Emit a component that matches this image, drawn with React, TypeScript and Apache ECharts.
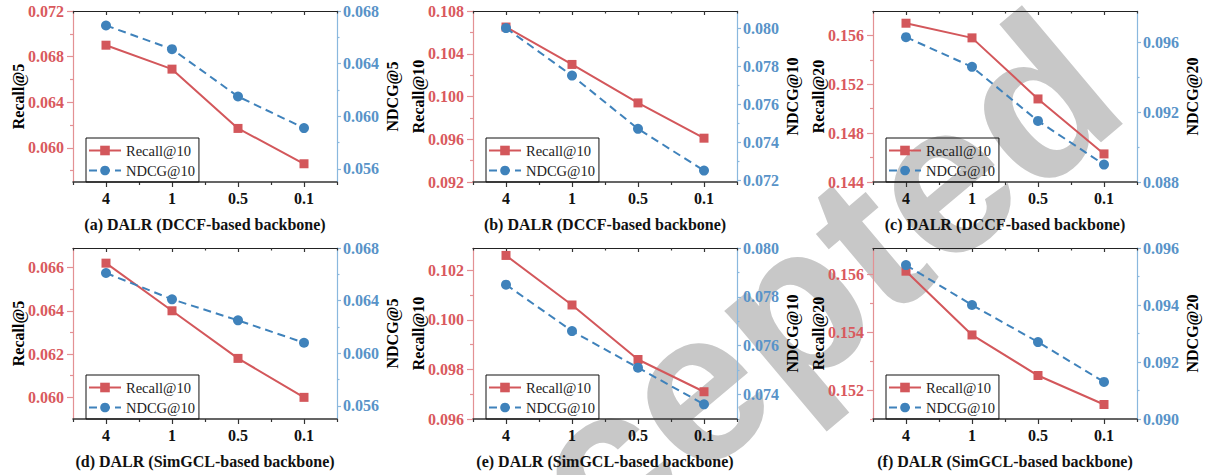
import React, { useEffect, useRef } from 'react';
import * as echarts from 'echarts';

const categories = ['4', '1', '0.5', '0.1'];

// Panel (a)
const recallA = [0.0690, 0.0669, 0.0617, 0.0586];
const ndcgA = [0.0669, 0.0651, 0.0615, 0.0591];
const leftTicksA = [0.060, 0.064, 0.068, 0.072];
const leftMinorA = [0.058, 0.062, 0.066, 0.070];
const rightTicksA = [0.056, 0.060, 0.064, 0.068];
const rightMinorA = [0.058, 0.062, 0.066];
// Panel (b)
const recallB = [0.1065, 0.1030, 0.0994, 0.0961];
const ndcgB = [0.0800, 0.0775, 0.0747, 0.0725];
const leftTicksB = [0.092, 0.096, 0.100, 0.104, 0.108];
const leftMinorB = [0.094, 0.098, 0.102, 0.106];
const rightTicksB = [0.072, 0.074, 0.076, 0.078, 0.080];
const rightMinorB = [0.073, 0.075, 0.077, 0.079];
// Panel (c)
const recallC = [0.1570, 0.1558, 0.1508, 0.1463];
const ndcgC = [0.0963, 0.0946, 0.0915, 0.0890];
const leftTicksC = [0.144, 0.148, 0.152, 0.156];
const leftMinorC = [0.146, 0.150, 0.154];
const rightTicksC = [0.088, 0.092, 0.096];
const rightMinorC = [0.090, 0.094];
// Panel (d)
const recallD = [0.0662, 0.0640, 0.0618, 0.0600];
const ndcgD = [0.0661, 0.0641, 0.0625, 0.0608];
const leftTicksD = [0.060, 0.062, 0.064, 0.066];
const leftMinorD = [0.061, 0.063, 0.065];
const rightTicksD = [0.056, 0.060, 0.064, 0.068];
const rightMinorD = [0.058, 0.062, 0.066];
// Panel (e)
const recallE = [0.1026, 0.1006, 0.0984, 0.0971];
const ndcgE = [0.0785, 0.0766, 0.0751, 0.0736];
const leftTicksE = [0.096, 0.098, 0.100, 0.102];
const leftMinorE = [0.097, 0.099, 0.101];
const rightTicksE = [0.074, 0.076, 0.078, 0.080];
const rightMinorE = [0.073, 0.075, 0.077, 0.079];
// Panel (f)
const recallF = [0.1561, 0.1539, 0.1525, 0.1515];
const ndcgF = [0.0954, 0.0940, 0.0927, 0.0913];
const leftTicksF = [0.152, 0.154, 0.156];
const leftMinorF = [0.151, 0.153, 0.155];
const rightTicksF = [0.090, 0.092, 0.094, 0.096];
const rightMinorF = [0.091, 0.093, 0.095];

const captions = [
  '(a) DALR (DCCF-based backbone)',
  '(b) DALR (DCCF-based backbone)',
  '(c) DALR (DCCF-based backbone)',
  '(d) DALR (SimGCL-based backbone)',
  '(e) DALR (SimGCL-based backbone)',
  '(f) DALR (SimGCL-based backbone)',
];
const leftNames = ['Recall@5', 'Recall@10', 'Recall@20', 'Recall@5', 'Recall@10', 'Recall@20'];
const rightNames = ['NDCG@5', 'NDCG@10', 'NDCG@20', 'NDCG@5', 'NDCG@10', 'NDCG@20'];
const seriesNames = ['Recall@10', 'NDCG@10'];

const panels = [
  { recall: recallA, ndcg: ndcgA, lMin: 0.057, lMax: 0.072, lT: leftTicksA, lM: leftMinorA, rMin: 0.055, rMax: 0.068, rT: rightTicksA, rM: rightMinorA },
  { recall: recallB, ndcg: ndcgB, lMin: 0.092, lMax: 0.108, lT: leftTicksB, lM: leftMinorB, rMin: 0.0719, rMax: 0.0809, rT: rightTicksB, rM: rightMinorB },
  { recall: recallC, ndcg: ndcgC, lMin: 0.144, lMax: 0.158, lT: leftTicksC, lM: leftMinorC, rMin: 0.088, rMax: 0.0978, rT: rightTicksC, rM: rightMinorC },
  { recall: recallD, ndcg: ndcgD, lMin: 0.059, lMax: 0.0669, lT: leftTicksD, lM: leftMinorD, rMin: 0.055, rMax: 0.068, rT: rightTicksD, rM: rightMinorD },
  { recall: recallE, ndcg: ndcgE, lMin: 0.096, lMax: 0.1029, lT: leftTicksE, lM: leftMinorE, rMin: 0.073, rMax: 0.080, rT: rightTicksE, rM: rightMinorE },
  { recall: recallF, ndcg: ndcgF, lMin: 0.1510, lMax: 0.1569, lT: leftTicksF, lM: leftMinorF, rMin: 0.090, rMax: 0.096, rT: rightTicksF, rM: rightMinorF },
];

const FONT = 'Liberation Serif';
const RED = '#d3575b';
const RED_LABEL = '#d9595d';
const RED_AXIS = '#e39194';
const BLUE = '#3f82bb';
const BLUE_LABEL = '#5893c8';
const BLUE_AXIS = '#8ab8de';
const DARK = '#333333';

const GRID_LEFT = [73, 473, 873];
const GRID_TOP = [11, 248];
const GRID_W = 264;
const GRID_H = 171;

function buildOption() {
  const grid: any[] = [];
  const xAxis: any[] = [];
  const yAxis: any[] = [];
  const series: any[] = [];
  const legend: any[] = [];
  const graphic: any[] = [];

  graphic.push({
    type: 'text',
    x: 1155,
    y: 140,
    rotation: 0.70,
    z: -10,
    silent: true,
    style: {
      text: 'Accepted',
      fontSize: 215,
      fontWeight: 'bold',
      fontFamily: 'Liberation Sans',
      fill: '#c8c8c8',
      align: 'right',
      verticalAlign: 'bottom',
    },
  });

  panels.forEach((p, i) => {
    const col = i % 3;
    const row = Math.floor(i / 3);
    const left = GRID_LEFT[col];
    const top = GRID_TOP[row];
    grid.push({ left, top, width: GRID_W, height: GRID_H, containLabel: false });
    const xb = i * 4;
    const yb = i * 4;
    const tickStyle = { color: DARK, width: 1.2 };
    xAxis.push(
      {
        gridIndex: i, type: 'category', data: categories, position: 'bottom', boundaryGap: true,
        axisLine: { show: true, lineStyle: { color: DARK, width: 1.5 } },
        axisTick: { show: true, alignWithLabel: true, interval: 0, length: 5, lineStyle: tickStyle },
        axisLabel: { interval: 0, margin: 8, color: '#111', fontFamily: FONT, fontWeight: 'bold', fontSize: 16 },
        splitLine: { show: false },
      },
      {
        gridIndex: i, type: 'category', data: categories, position: 'bottom', boundaryGap: true,
        axisLine: { show: false },
        axisTick: { show: true, interval: 0, length: 3, lineStyle: tickStyle },
        axisLabel: { show: false }, splitLine: { show: false },
      },
      {
        gridIndex: i, type: 'category', data: categories, position: 'top', boundaryGap: true,
        axisLine: { show: true, lineStyle: { color: '#222', width: 1.2 } },
        axisTick: { show: true, inside: true, alignWithLabel: true, interval: 0, length: 4, lineStyle: tickStyle },
        axisLabel: { show: false }, splitLine: { show: false },
      },
      {
        gridIndex: i, type: 'category', data: categories, position: 'top', boundaryGap: true,
        axisLine: { show: false },
        axisTick: { show: true, inside: true, interval: 0, length: 2.5, lineStyle: tickStyle },
        axisLabel: { show: false }, splitLine: { show: false },
      }
    );
    const nameStyle = { color: '#000', fontFamily: FONT, fontWeight: 'bold', fontSize: 16 };
    yAxis.push(
      {
        gridIndex: i, type: 'value', position: 'left', min: p.lMin, max: p.lMax,
        name: leftNames[i], nameLocation: 'middle', nameGap: 47, nameRotate: 90, nameMoveOverlap: false,
        nameTextStyle: nameStyle,
        axisLine: { show: true, lineStyle: { color: RED_AXIS, width: 1.2 } },
        axisTick: { show: true, length: 6, customValues: p.lT, lineStyle: { color: RED_AXIS, width: 1.2 } },
        axisLabel: {
          customValues: p.lT, margin: 9, color: RED_LABEL, fontFamily: FONT, fontWeight: 'bold', fontSize: 16,
          formatter: (v: number) => v.toFixed(3),
        },
        splitLine: { show: false },
      },
      {
        gridIndex: i, type: 'value', position: 'left', min: p.lMin, max: p.lMax,
        axisLine: { show: false },
        axisTick: { show: true, length: 3, customValues: p.lM, lineStyle: { color: RED_AXIS, width: 1.2 } },
        axisLabel: { show: false }, splitLine: { show: false },
      },
      {
        gridIndex: i, type: 'value', position: 'right', min: p.rMin, max: p.rMax,
        name: rightNames[i], nameLocation: 'middle', nameGap: 47, nameRotate: 90, nameMoveOverlap: false,
        nameTextStyle: nameStyle,
        axisLine: { show: true, lineStyle: { color: BLUE_AXIS, width: 1.2 } },
        axisTick: { show: true, length: 4, customValues: p.rT, lineStyle: { color: BLUE_AXIS, width: 1.2 } },
        axisLabel: {
          customValues: p.rT, margin: 6, color: BLUE_LABEL, fontFamily: FONT, fontWeight: 'bold', fontSize: 16,
          formatter: (v: number) => v.toFixed(3),
        },
        splitLine: { show: false },
      },
      {
        gridIndex: i, type: 'value', position: 'right', min: p.rMin, max: p.rMax,
        axisLine: { show: false },
        axisTick: { show: true, length: 2.5, customValues: p.rM, lineStyle: { color: BLUE_AXIS, width: 1.2 } },
        axisLabel: { show: false }, splitLine: { show: false },
      }
    );
    series.push(
      {
        type: 'line', name: seriesNames[0], xAxisIndex: xb, yAxisIndex: yb, data: p.recall,
        symbol: 'rect', symbolSize: 9, itemStyle: { color: RED },
        lineStyle: { color: RED, width: 2 }, z: 3,
      },
      {
        type: 'line', name: seriesNames[1], xAxisIndex: xb, yAxisIndex: yb + 2, data: p.ndcg,
        symbol: 'circle', symbolSize: 10, itemStyle: { color: BLUE },
        lineStyle: { color: BLUE, width: 2, type: [8, 5] }, z: 4,
      }
    );
    legend.push({
      left: left + 13, top: top + 127, orient: 'vertical', data: seriesNames,
      borderColor: '#111', borderWidth: 1, padding: [5, 4, 4, 2],
      itemWidth: 32, itemHeight: 12, itemGap: 5, selectedMode: false,
      textStyle: { fontFamily: FONT, fontSize: 14.5, color: '#222' },
    });
    graphic.push({
      type: 'text', x: left + GRID_W / 2, y: top + 213,
      style: {
        text: captions[i], fontFamily: FONT, fontWeight: 'bold', fontSize: 16, fill: '#111',
        align: 'center', verticalAlign: 'middle',
      },
    });
  });

  return {
    animation: false,
    backgroundColor: '#ffffff',
    grid, xAxis, yAxis, series, legend, graphic,
  };
}

export default function App() {
  const ref = useRef<HTMLDivElement>(null);
  useEffect(() => {
    if (!ref.current) return;
    const chart = echarts.init(ref.current, undefined, { renderer: 'svg' });
    chart.setOption(buildOption() as any);
    return () => chart.dispose();
  }, []);
  return (
    <div
      ref={ref}
      style={{ position: 'fixed', left: 0, top: 0, width: 1206, height: 475, background: '#fff' }}
    />
  );
}
